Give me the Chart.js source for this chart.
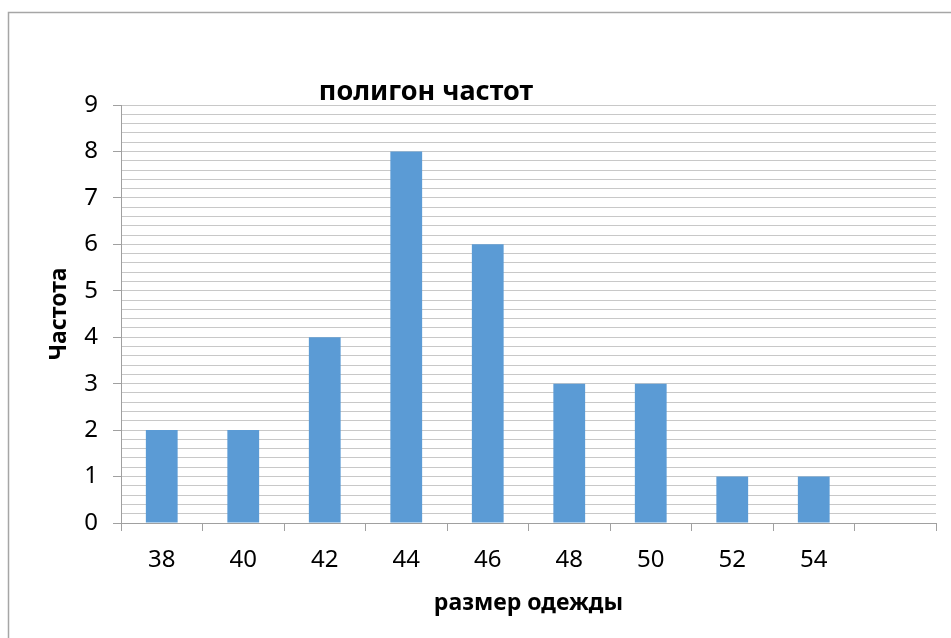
<!DOCTYPE html>
<html>
<head>
<meta charset="utf-8">
<script src="https://cdn.jsdelivr.net/npm/chart.js@4"></script>
<style>
html,body{margin:0;padding:0;background:#fff;overflow:hidden;}
#wrap{width:951px;height:638px;position:relative;}
</style>
</head>
<body>
<div id="wrap"><canvas id="c" width="951" height="638"></canvas></div>
<script>
const categories = ['38','40','42','44','46','48','50','52','54',''];
const frequencies = [2,2,4,8,6,3,3,1,1,null];
const chartTitle = 'полигон частот';
const xTitle = 'размер одежды';
const yTitle = 'Частота';
const FONT = "'Noto Sans', 'Open Sans', sans-serif";

const isInt = v => Math.abs(v - Math.round(v)) < 1e-6;

const decor = {
  id: 'decor',
  beforeDraw(chart) {
    const ctx = chart.ctx;
    ctx.save();
    ctx.fillStyle = '#fff';
    ctx.fillRect(0, 0, chart.width, chart.height);
    ctx.strokeStyle = '#a6a6a6';
    ctx.lineWidth = 1.5;
    ctx.strokeRect(8.5, 12.5, 3000, 3000);
    ctx.restore();
  },
  afterDraw(chart) {
    const ctx = chart.ctx;
    ctx.save();
    ctx.font = "bold 27px " + FONT;
    ctx.fillStyle = '#000';
    ctx.textAlign = 'center';
    ctx.textBaseline = 'middle';
    ctx.fillText(chartTitle, 426, 92);
    ctx.restore();
  }
};

new Chart(document.getElementById('c'), {
  type: 'bar',
  data: {
    labels: categories,
    datasets: [{
      data: frequencies,
      backgroundColor: '#5b9bd5',
      borderWidth: 0,
      barPercentage: 0.5,
      categoryPercentage: 0.78
    }]
  },
  options: {
    responsive: false,
    animation: false,
    devicePixelRatio: 1,
    layout: { padding: { top: 105, right: 15, left: 0, bottom: 0 } },
    plugins: { legend: { display: false }, tooltip: { enabled: false }, title: { display: false } },
    scales: {
      x: {
        afterFit(s) { s.height = 115; },
        grid: { display: true, drawOnChartArea: false, offset: true, tickLength: 8, color: '#a0a0a0', tickColor: '#a0a0a0' },
        border: { color: '#a0a0a0', width: 1 },
        ticks: { color: '#000', font: { family: FONT, size: 24 }, padding: 15, autoSkip: false, maxRotation: 0 },
        title: { display: true, text: xTitle, color: '#000', font: { family: FONT, size: 23, weight: 'bold' }, padding: { top: 0, bottom: 21 } }
      },
      y: {
        min: 0, max: 9,
        afterFit(s) { s.width = 121; },
        grid: {
          color: '#c8c8c8',
          lineWidth: 1,
          tickLength: 8,
          tickColor: ctx => isInt(ctx.tick.value) ? '#a0a0a0' : 'rgba(0,0,0,0)'
        },
        border: { color: '#a0a0a0', width: 1 },
        ticks: {
          stepSize: 0.2,
          autoSkip: false,
          color: '#000',
          padding: 15,
          font: { family: FONT, size: 24 },
          callback: v => isInt(v) ? String(Math.round(v)) : ''
        },
        title: { display: true, text: yTitle, color: '#000', font: { family: FONT, size: 23, weight: 'bold' }, padding: { top: 46, bottom: 0 } }
      }
    }
  },
  plugins: [decor]
});
</script>
</body>
</html>
